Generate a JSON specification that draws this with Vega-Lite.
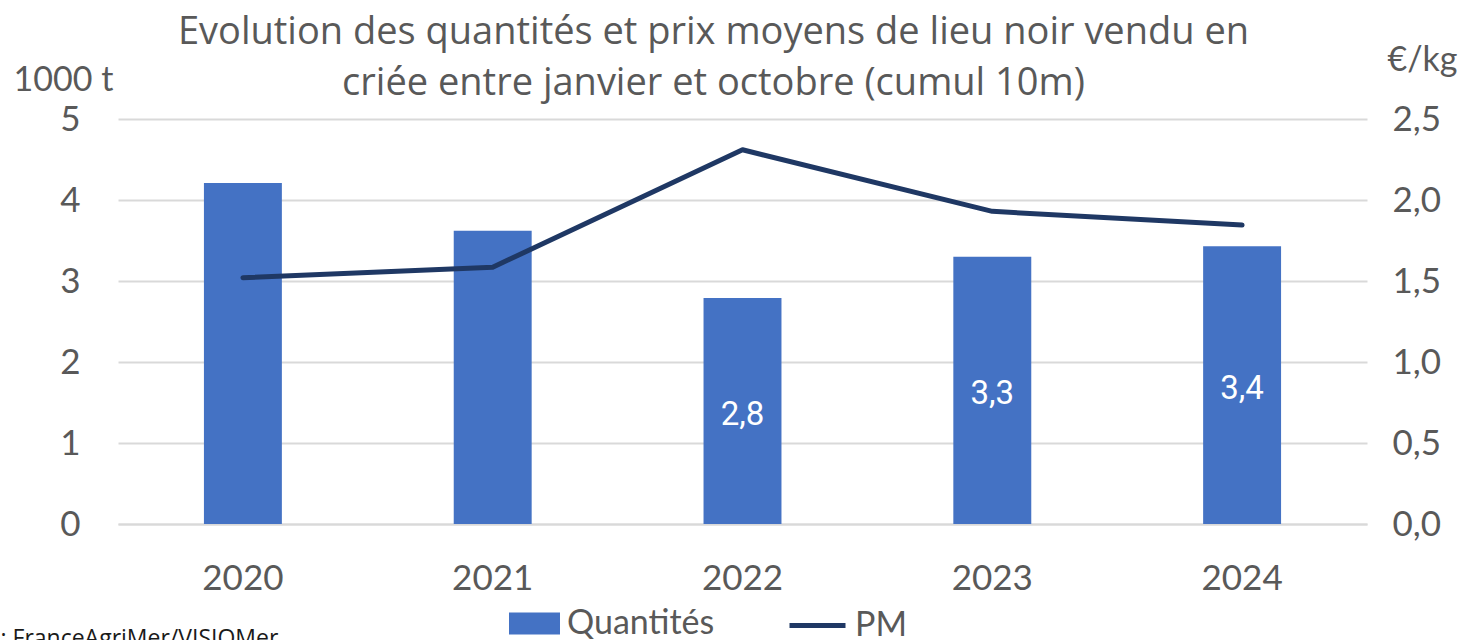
{
  "$schema": "https://vega.github.io/schema/vega-lite/v6.json",
  "width": 1249,
  "height": 405,
  "autosize": "none",
  "padding": {"left": 118, "top": 119, "right": 100, "bottom": 116},
  "background": "white",
  "datasets": {
    "q": [
      {"annee": "2020", "quantite": 4.21},
      {"annee": "2021", "quantite": 3.62},
      {"annee": "2022", "quantite": 2.79},
      {"annee": "2023", "quantite": 3.30},
      {"annee": "2024", "quantite": 3.43}
    ],
    "pm": [
      {"annee": "2020", "prix": 1.52},
      {"annee": "2021", "prix": 1.585},
      {"annee": "2022", "prix": 2.31},
      {"annee": "2023", "prix": 1.93},
      {"annee": "2024", "prix": 1.845}
    ]
  },
  "title": {
    "text": ["Evolution des quantités et prix moyens de lieu noir vendu en", "criée entre janvier et octobre (cumul 10m)"],
    "anchor": "middle",
    "frame": "group",
    "dx": -29,
    "offset": -60,
    "font": "Open Sans",
    "fontSize": 38,
    "fontWeight": "normal",
    "color": "#595959",
    "lineHeight": 51
  },
  "config": {
    "locale": {"number": {"decimal": ",", "thousands": " ", "grouping": [3], "currency": ["", " €"]}},
    "view": {"stroke": null},
    "font": "Lato",
    "axis": {
      "labelFont": "Lato",
      "labelFontSize": 35,
      "labelColor": "#595959",
      "titleFont": "Lato",
      "titleColor": "#595959",
      "titleFontWeight": "normal",
      "ticks": false,
      "domain": false
    }
  },
  "layer": [
    {
      "data": {"name": "q"},
      "mark": {"type": "bar"},
      "encoding": {
        "x": {
          "field": "annee", "type": "ordinal",
          "scale": {"paddingInner": 0.688, "paddingOuter": 0.344},
          "axis": {
            "labelAngle": 0, "labelPadding": 37, "labelBaseline": "top",
            "domain": true, "domainColor": "#d9d9d9", "domainWidth": 2,
            "title": ": FranceAgriMer/VISIOMer",
            "titleFont": "Open Sans", "titleFontSize": 23, "titleColor": "#1a1a1a",
            "titleAnchor": "start", "titleAlign": "left", "titleBaseline": "alphabetic",
            "titleX": -118, "titleY": 121
          }
        },
        "y": {
          "field": "quantite", "type": "quantitative",
          "scale": {"domain": [0, 5], "nice": false},
          "axis": {
            "orient": "left", "values": [0, 1, 2, 3, 4, 5], "format": "d",
            "labelPadding": 38, "grid": true, "gridColor": "#d9d9d9", "gridWidth": 2,
            "title": "1000 t", "titleAngle": 0, "titleFontSize": 34,
            "titleAlign": "center", "titleBaseline": "middle", "titleX": -55, "titleY": -39
          }
        },
        "fill": {
          "datum": "Quantités",
          "scale": {"range": ["#4472C4"]},
          "legend": {
            "orient": "none", "legendX": 391, "legendY": 479, "title": null,
            "symbolType": "M-1,-0.43H1V0.43H-1Z", "symbolSize": 2601, "symbolStrokeWidth": 0,
            "labelFont": "Lato", "labelFontSize": 34, "labelColor": "#595959", "labelOffset": 7, "padding": 0
          }
        }
      }
    },
    {
      "data": {"name": "q"},
      "transform": [{"filter": "datum.annee >= '2022'"}],
      "mark": {"type": "text", "color": "white", "font": "Roboto", "fontSize": 33, "baseline": "middle", "align": "center", "dy": 4},
      "encoding": {
        "x": {"field": "annee", "type": "ordinal"},
        "y": {"field": "quantite", "type": "quantitative", "scale": {"domain": [0, 10], "nice": false}, "axis": null},
        "text": {"field": "quantite", "type": "quantitative", "format": ".1f"}
      }
    },
    {
      "data": {"name": "pm"},
      "mark": {"type": "line", "strokeWidth": 5, "strokeCap": "round", "strokeJoin": "round"},
      "encoding": {
        "x": {"field": "annee", "type": "ordinal"},
        "y": {
          "field": "prix", "type": "quantitative",
          "scale": {"domain": [0, 2.5], "nice": false},
          "axis": {
            "orient": "right", "values": [0, 0.5, 1, 1.5, 2, 2.5], "format": ".1f",
            "labelPadding": 25, "grid": false,
            "title": "€/kg", "titleAngle": 0, "titleFontSize": 34,
            "titleAlign": "center", "titleBaseline": "middle", "titleX": 55, "titleY": -59
          }
        },
        "stroke": {
          "datum": "PM",
          "scale": {"range": ["#1F3864"]},
          "legend": {
            "orient": "none", "legendX": 669, "legendY": 476, "title": null,
            "symbolType": "stroke", "symbolSize": 3136, "symbolStrokeWidth": 5,
            "labelFont": "Lato", "labelFontSize": 34, "labelColor": "#595959", "labelOffset": 7, "padding": 0
          }
        }
      }
    }
  ],
  "resolve": {"scale": {"y": "independent", "fill": "independent", "stroke": "independent"}}
}
